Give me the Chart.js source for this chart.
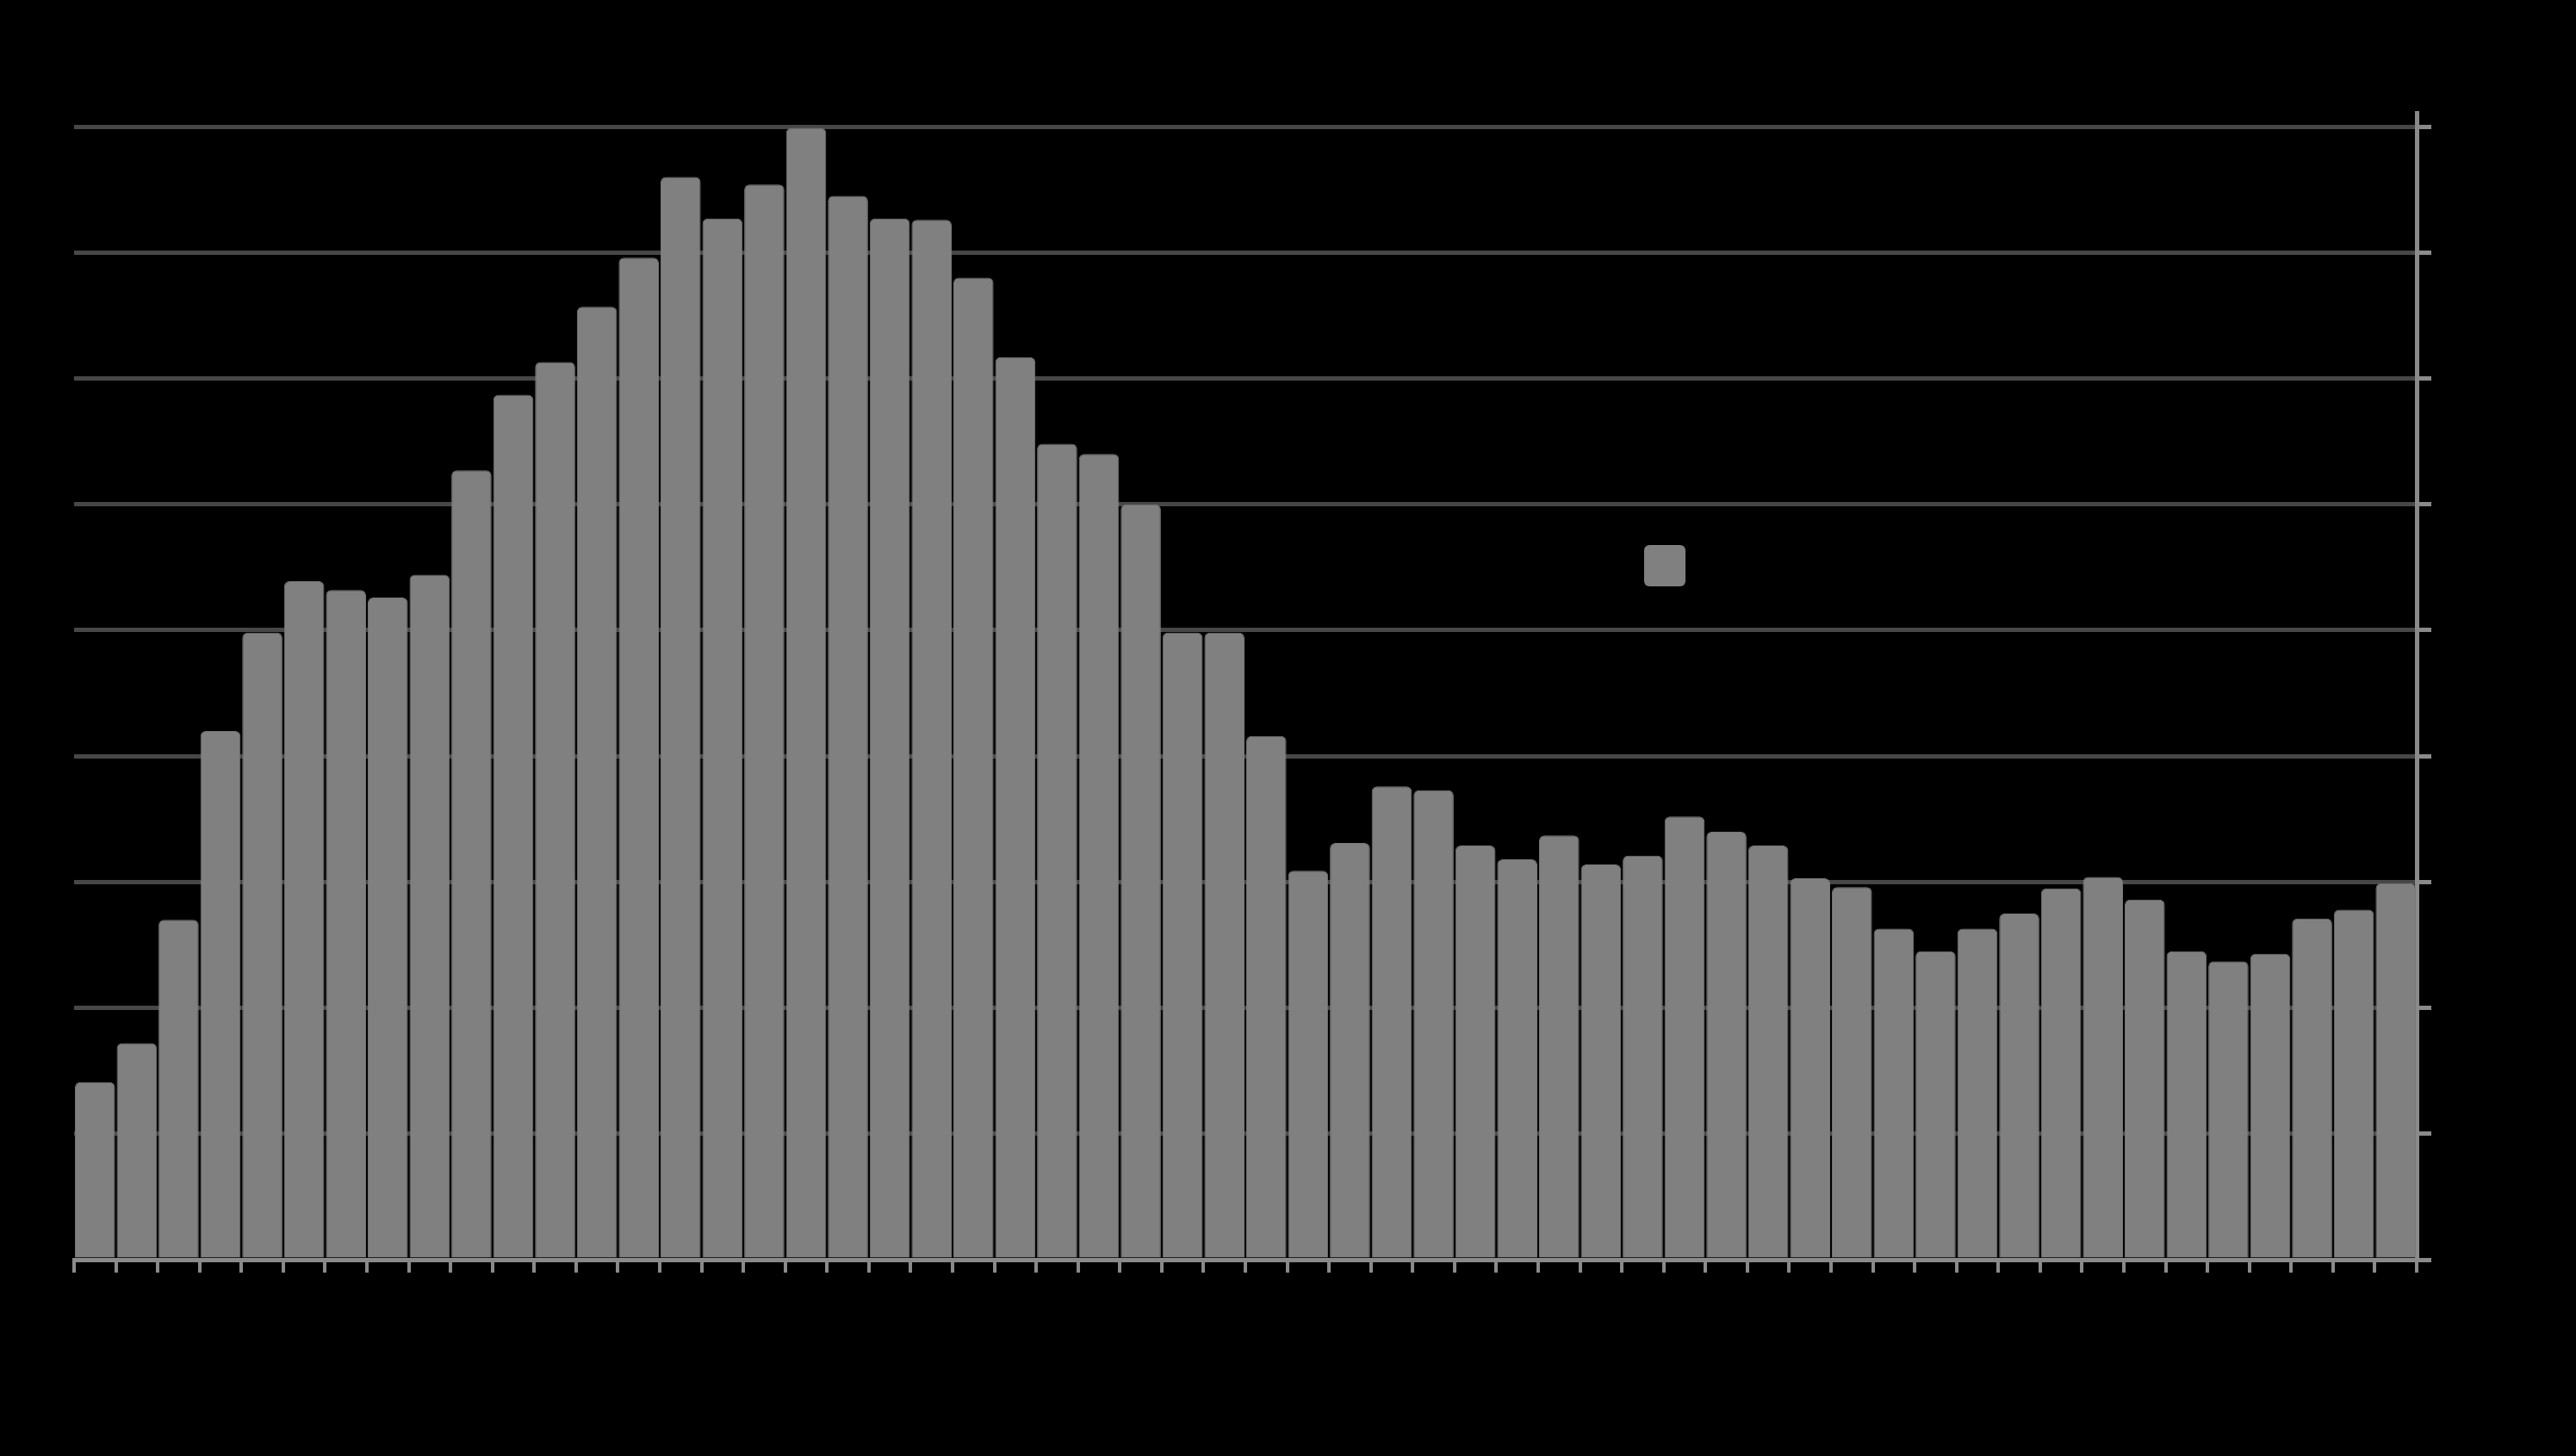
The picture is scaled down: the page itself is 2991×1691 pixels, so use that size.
<!DOCTYPE html>
<html>
<head>
<meta charset="utf-8">
<script src="https://cdn.jsdelivr.net/npm/chart.js@4.4.1/dist/chart.umd.min.js"></script>
<style>
  html, body { margin: 0; padding: 0; background: #000; }
  #wrap { position: relative; width: 2991px; height: 1691px; }
  #legend-div { position: absolute; left: 1909px; top: 633px; font-family: "Liberation Sans", Arial, sans-serif; font-size: 32px; color: #000; }
  #legend-div ul { list-style: none; margin: 0; padding: 0; }
  #legend-div li { display: flex; align-items: center; }
  #legend-div span { display: inline-block; width: 48px; height: 48px; border-radius: 6px; margin-right: 14px; }
</style>
</head>
<body>
<div id="wrap">
  <canvas id="barChartCanvas" width="2991" height="1691"></canvas>
  <div id="legend-div"></div>
</div>
<script>
let labels = [];
for (let i = 1; i <= 56; i++) labels.push(String(i));

let seriesName = 'Series 1';
let values = [
  14.1, 17.2, 27.0, 42.0, 49.8, 53.9, 53.2, 52.6, 54.4, 62.7,
  68.7, 71.3, 75.7, 79.6, 86.0, 82.7, 85.4, 89.9, 84.5, 82.7,
  82.6, 78.0, 71.7, 64.8, 64.0, 60.0, 49.8, 49.8, 41.6, 30.9,
  33.1, 37.6, 37.3, 32.9, 31.8, 33.7, 31.4, 32.1, 35.2, 34.0,
  32.9, 30.3, 29.6, 26.3, 24.5, 26.3, 27.5, 29.5, 30.4, 28.6,
  24.5, 23.7, 24.3, 27.1, 27.8, 29.9
];
let yTicks = [0, 10, 20, 30, 40, 50, 60, 70, 80, 90];

let barColor = '#808080';

let barChartData = {
    labels: labels,
    datasets: [{
        label: seriesName,
        data: values,
        backgroundColor: barColor,
        borderColor: '#777777',
        borderWidth: 1,
        borderSkipped: 'start',
        borderRadius: { topLeft: 6, topRight: 6 },
        barPercentage: 0.96,
        categoryPercentage: 1.0
    }]
};

Chart.defaults.color = '#000';
Chart.defaults.font.family = '"Liberation Sans", Arial, sans-serif';
Chart.defaults.font.size = 22;

let barChartDraw = function () {
    let ctx = document.getElementById('barChartCanvas').getContext('2d');

    window.barChart = new Chart(ctx, {
        type: 'bar',
        data: barChartData,
        options: {
            responsive: false,
            animation: false,
            layout: { padding: { top: 131, left: 86, right: 0, bottom: 0 } },
            plugins: {
                legend: { display: false },
                tooltip: { enabled: false }
            },
            scales: {
                x: {
                    grid: {
                        drawOnChartArea: false,
                        tickColor: '#8a8a8a',
                        tickLength: 15,
                        lineWidth: 4
                    },
                    border: { color: '#8a8a8a', width: 5 },
                    ticks: { color: '#000', maxRotation: 0, autoSkip: false },
                    afterFit: function (scale) { scale.height = 228; }
                },
                y: {
                    position: 'right',
                    min: 0,
                    max: 91.1,
                    grid: {
                        color: '#474747',
                        lineWidth: 5,
                        tickColor: '#8a8a8a',
                        tickLength: 17
                    },
                    border: { color: '#8a8a8a', width: 5 },
                    ticks: { color: '#000', stepSize: 10, includeBounds: false },
                    afterBuildTicks: function (scale) {
                        scale.ticks = yTicks.map(function (v) { return { value: v }; });
                    },
                    afterFit: function (scale) { scale.width = 185; }
                }
            }
        }
    });
};

let customLegend = function (chart) {
    let ul = document.createElement('ul');
    chart.data.datasets.forEach(function (ds) {
        ul.innerHTML += `<li><span style="background-color: ${ds.backgroundColor}"></span>${ds.label}</li>`;
    });
    return ul.outerHTML;
};

window.onload = function () {
    barChartDraw();
    document.getElementById('legend-div').innerHTML = customLegend(window.barChart);
};
</script>
</body>
</html>
